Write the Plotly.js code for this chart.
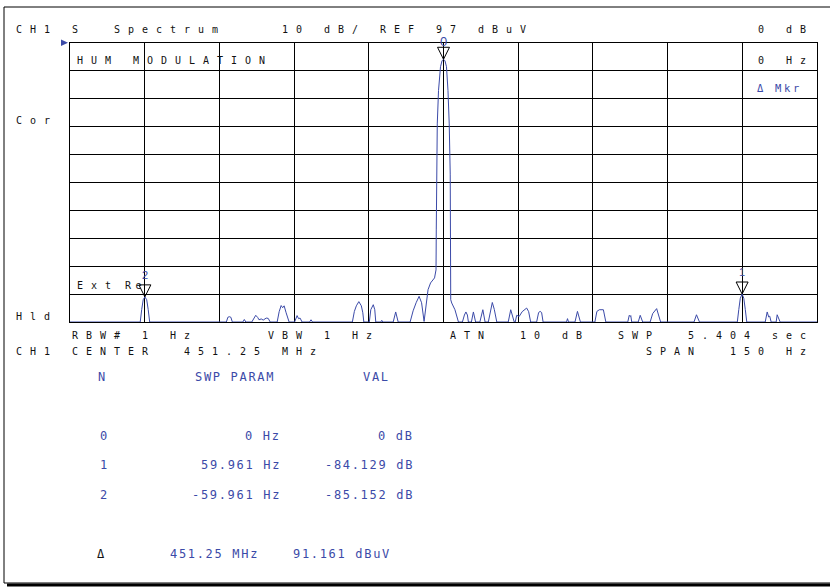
<!DOCTYPE html>
<html><head><meta charset="utf-8">
<script src="https://cdn.plot.ly/plotly-3.0.1.min.js"></script>
<style>html,body{margin:0;padding:0;background:#fff;}#chart{width:830px;height:587px;}</style>
</head><body><div id="chart"></div>
<script>
// ---- data (Hz offset from center, dBuV) ----
const freqHz = [-75,-60.9,-60.6,-60.3,-59.961,-59.6,-59.3,-59.0,
 -43.6,-43.3,-43.0,-42.7,-42.4,-40.3,-40.0,-39.7,
 -38.5,-38.1,-37.7,-37.3,-37.05,-36.6,-36.2,-35.6,-35.2,-34.8,
 -33.4,-33.0,-32.6,-32.3,-32.0,-31.6,-31.4,-31.0,
 -29.9,-29.4,-29.1,-28.8,-28.4,-26.9,-26.6,-26.3,
 -18.3,-17.9,-17.5,-17.0,-16.5,-16.2,-16.0,
 -14.9,-14.6,-14.1,-13.8,-13.6,-12.6,-12.4,-12.2,-10.1,-9.6,-9.1,
 -6.7,-6.1,-5.5,-4.9,-4.4,-3.9,-3.1,-2.6,-1.8,-1.5,-1.45,-1.35,-1.25,-1.0,-0.6,-0.3,0,
 0.3,0.6,0.9,1.15,1.35,1.45,1.45,1.65,2.3,3.0,
 3.8,4.2,4.5,4.8,5.0,5.6,6.0,6.45,7.3,7.9,8.35,9.0,9.4,9.8,10.2,10.7,
 13.0,13.5,14.2,14.4,14.7,15.2,15.8,16.7,17.1,17.5,18.7,19.1,19.4,19.7,20.0,
 24.7,24.9,25.1,26.4,26.9,27.5,30.4,30.8,31.3,32.1,32.6,
 37.0,37.3,37.5,37.6,37.8,39.1,39.5,40.0,41.5,42.0,42.8,43.1,43.6,
 50.3,50.8,51.4,59.0,59.3,59.6,59.961,60.3,60.6,60.9,
 64.6,65.0,65.3,65.5,65.8,66.8,67.0,67.6,75];
const levelDbuV = [-3,-3,1.5,5.0,6.01,5.0,1.5,-3,
 -3,-1.3,-1.1,-1.3,-3,-3,-2.1,-3,
 -3,-1.5,-0.6,-1.4,-2.2,-1.9,-2.3,-1.6,-1.7,-3,
 -3,0.7,2.9,2.1,2.8,0.3,-0.6,-3,
 -3,-0.7,-1.8,-1.6,-3,-3,-2.2,-3,
 -3,0.8,2.8,4.3,2.8,0.3,-3,
 -3,1.4,3.2,1.4,-3,-3,-2.4,-3,-3,0.6,-3,
 -3,1.0,3.9,6.2,3.9,-2.8,8.6,11.0,12.8,15.7,30,50,68,80,88.5,90.6,91.161,
 90.6,88.5,80,68,50,30,5.0,3.8,1.4,-3,
 -3,-0.5,0.6,-0.5,-3,-3,0.6,-3,-3,1.4,-3,-3,1.0,4.0,1.5,-3,
 -3,1.4,-3,-3,-0.6,-1.0,0.7,2.0,0.7,-3,-3,0.4,0.8,0.4,-3,
 -3,-1.8,-3,-3,0.8,-3,-3,0.8,1.4,1.4,-3,
 -3,-0.6,-1.0,-0.7,-3,-3,-0.6,-3,-3,0.0,1.8,0.0,-3,
 -3,-0.4,-3,-3,1.5,5.5,7.03,5.5,1.5,-3,
 -3,0.6,-1.2,-0.9,-3,-3,-0.4,-3,-3];

const markerNum = [0, 1, 2];
const markerFreqHz = [0, 59.961, -59.961];
const markerRelDb = [0, -84.129, -85.152];
const deltaRefDbuV = 91.161;
const centerFreq = '451.25';
const refLevel = 97, dbPerDiv = 10, spanHz = 150;

// ---- geometry helpers (pixels -> paper) ----
const PL = 70, PR = 817, PT = 43, PB = 322;
const px = x => (x - PL) / (PR - PL);
const py = y => (PB - y) / (PB - PT);
const BLUE = '#3b4aa8', INK = '#111';
const MONO = 'DejaVu Sans Mono';

function txt(x, y, s, o) {
  o = o || {};
  const size = o.size || 10, pitch = o.pitch || 14;
  const ls = pitch - 0.602 * size;
  const anchor = o.anchor || 'left';
  return {
    xref: 'paper', yref: 'paper', x: px(anchor === 'right' ? x + ls : x), y: py(y),
    xanchor: anchor, yanchor: 'middle', showarrow: false, borderpad: 0, borderwidth: 0,
    text: '<span style="letter-spacing:' + ls.toFixed(2) + 'px">' + s.replace(/ /g, '\u00a0') + '</span>',
    font: { family: o.family || MONO, size: size, color: o.color || INK }
  };
}

const ann = [];
// header rows (fixed character cells, 14px pitch)
ann.push(txt(16, 30, 'CH1 S  Spectrum    ' + dbPerDiv + ' dB/ REF ' + refLevel + ' dBuV'));
ann.push(txt(758, 30, '0 dB'));
ann.push(txt(77, 60, 'HUM MODULATION'));
ann.push(txt(758, 60, '0 Hz'));
ann.push(txt(757, 88, '\u0394 Mkr', { size: 10.5, pitch: 9, color: BLUE }));
ann.push(txt(16, 121, 'Cor'));
ann.push(txt(77, 285, 'Ext'));
ann.push(txt(125, 285, 'Re', { pitch: 10.5 }));
ann.push(txt(16, 316, 'Hld'));
ann.push(txt(72, 335, 'RBW# 1 Hz     VBW 1 Hz     ATN  10 dB  SWP  5.404 sec'));
ann.push(txt(16, 351, 'CH1 CENTER  ' + centerFreq + ' MHz'));
ann.push(txt(646, 351, 'SPAN  ' + spanHz + ' Hz'));

// marker table
const T = { size: 12, pitch: 8.9, color: BLUE };
ann.push(txt(98, 377, 'N', T));
ann.push(txt(195, 377, 'SWP PARAM', T));
ann.push(txt(363, 377, 'VAL', T));
const rowY = [436, 465, 495];
const fmt = v => v === 0 ? '0' : v.toFixed(3);
markerNum.forEach((n, i) => {
  ann.push(txt(100, rowY[i], String(n), T));
  ann.push(txt(279, rowY[i], fmt(markerFreqHz[i]) + ' Hz', Object.assign({ anchor: 'right' }, T)));
  ann.push(txt(412, rowY[i], fmt(markerRelDb[i]) + ' dB', Object.assign({ anchor: 'right' }, T)));
});
ann.push(txt(97, 554, '\u0394', Object.assign({}, T, { color: INK })));
ann.push(txt(170, 554, centerFreq + ' MHz', T));
ann.push(txt(293, 554, deltaRefDbuV.toFixed(3) + ' dBuV', T));

// marker labels
const markerLevel = markerRelDb.map(r => deltaRefDbuV + r);
markerNum.forEach((n, i) => {
  ann.push({ xref: 'x', yref: 'y', x: markerFreqHz[i], y: markerLevel[i], yshift: i === 0 ? 18 : 22,
    showarrow: false, text: String(n), borderpad: 0, borderwidth: 0,
    font: { family: 'Liberation Sans', size: i === 0 ? 13 : 11, color: BLUE } });
});

const shapes = [];
markerNum.forEach((n, i) => {
  shapes.push({ type: 'path', xref: 'x', yref: 'y', xsizemode: 'pixel', ysizemode: 'pixel',
    xanchor: markerFreqHz[i], yanchor: markerLevel[i], path: 'M-6,12 L6,12 L0,0 Z',
    line: { color: '#000', width: 1 }, fillcolor: 'rgba(0,0,0,0)' });
});
// reference level pointer
shapes.push({ type: 'path', xref: 'paper', yref: 'paper',
  path: 'M' + px(61) + ',' + py(39.5) + ' L' + px(61) + ',' + py(46) + ' L' + px(68) + ',' + py(42.7) + ' Z',
  line: { width: 0 }, fillcolor: BLUE });
// outer frame with bottom shadow
shapes.push({ type: 'rect', xref: 'paper', yref: 'paper', x0: px(4), x1: px(834), y0: py(583), y1: py(7),
  line: { color: '#000', width: 1 }, layer: 'below' });
shapes.push({ type: 'line', xref: 'paper', yref: 'paper', x0: px(7), x1: px(834), y0: py(585), y1: py(585),
  line: { color: '#000', width: 3 } });

const trace = { x: freqHz, y: levelDbuV, type: 'scatter', mode: 'lines',
  line: { color: BLUE, width: 1 }, hoverinfo: 'skip' };

const layout = {
  width: 830, height: 587,
  margin: { l: PL, r: 830 - PR, t: PT, b: 587 - PB, pad: 0 },
  paper_bgcolor: '#fff', plot_bgcolor: '#fff', showlegend: false,
  xaxis: { range: [-spanHz / 2, spanHz / 2], tick0: -75, dtick: 15, showgrid: true, gridcolor: '#000', gridwidth: 1,
    zeroline: false, showline: true, mirror: true, linecolor: '#000', linewidth: 1, showticklabels: false, ticks: '', fixedrange: true },
  yaxis: { range: [refLevel - 10 * dbPerDiv, refLevel], tick0: refLevel, dtick: dbPerDiv, showgrid: true, gridcolor: '#000', gridwidth: 1,
    zeroline: false, showline: true, mirror: true, linecolor: '#000', linewidth: 1, showticklabels: false, ticks: '', fixedrange: true },
  annotations: ann, shapes: shapes
};
Plotly.newPlot('chart', [trace], layout, { displayModeBar: false, staticPlot: true });
</script></body></html>
